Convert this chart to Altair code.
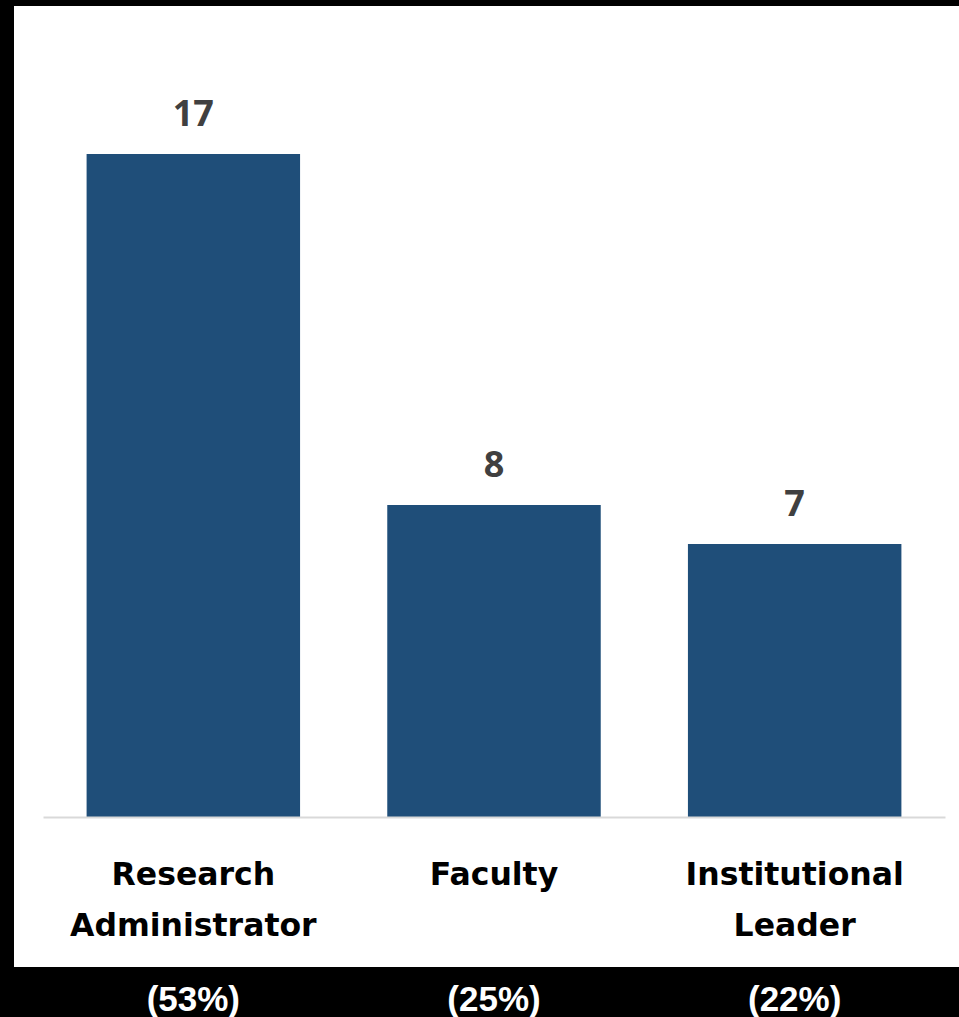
import altair as alt
import pandas as pd

categories = ["Research\nAdministrator", "Faculty", "Institutional\nLeader"]
counts = [17, 8, 7]
percents = ["(53%)", "(25%)", "(22%)"]

df = pd.DataFrame({"cat": categories, "n": counts, "pct": percents})

W, H = 902, 780
PAD = {"left": 43, "top": 37, "right": 14, "bottom": 200}

x = alt.X("cat:N", sort=categories, title=None,
          scale=alt.Scale(paddingInner=0.29, paddingOuter=0.145),
          axis=alt.Axis(labelAngle=0, labelExpr="split(datum.label, '\\n')",
                        labelFont="DejaVu Sans", labelFontWeight="bold",
                        labelFontSize=31.5, labelColor="#000000",
                        labelLineHeight=51, labelPadding=42, labelBaseline="top",
                        labelLimit=500,
                        ticks=False, domainColor="#d9d9d9", domainWidth=2,
                        zindex=1))
y = alt.Y("n:Q", title=None, scale=alt.Scale(domain=[0, 20]), axis=None)

bg = alt.Chart(pd.DataFrame({"a": [0]})).mark_rect(color="white").encode(
    x=alt.value(-29), x2=alt.value(916), y=alt.value(-31), y2=alt.value(930))

bars = alt.Chart(df).mark_bar(color="#1f4e79").encode(x=x, y=y)

labels = alt.Chart(df).mark_text(dy=-20, baseline="bottom", font="Open Sans",
                                 fontWeight="bold", fontSize=36,
                                 color="#404040").encode(
    x=alt.X("cat:N", sort=categories), y="n:Q", text="n:Q")

pct = alt.Chart(df).mark_text(baseline="alphabetic", font="Liberation Sans",
                              fontWeight="bold", fontSize=35,
                              color="white").encode(
    x=alt.X("cat:N", sort=categories), y=alt.value(974), text="pct:N")

chart = alt.layer(bg, bars, labels, pct).properties(
    width=W, height=H, padding=PAD,
    autosize=alt.AutoSizeParams(type="none"),
    background="black"
).configure_view(stroke=None)

chart.save("out.html", embed_options={"renderer": "svg", "actions": False})
